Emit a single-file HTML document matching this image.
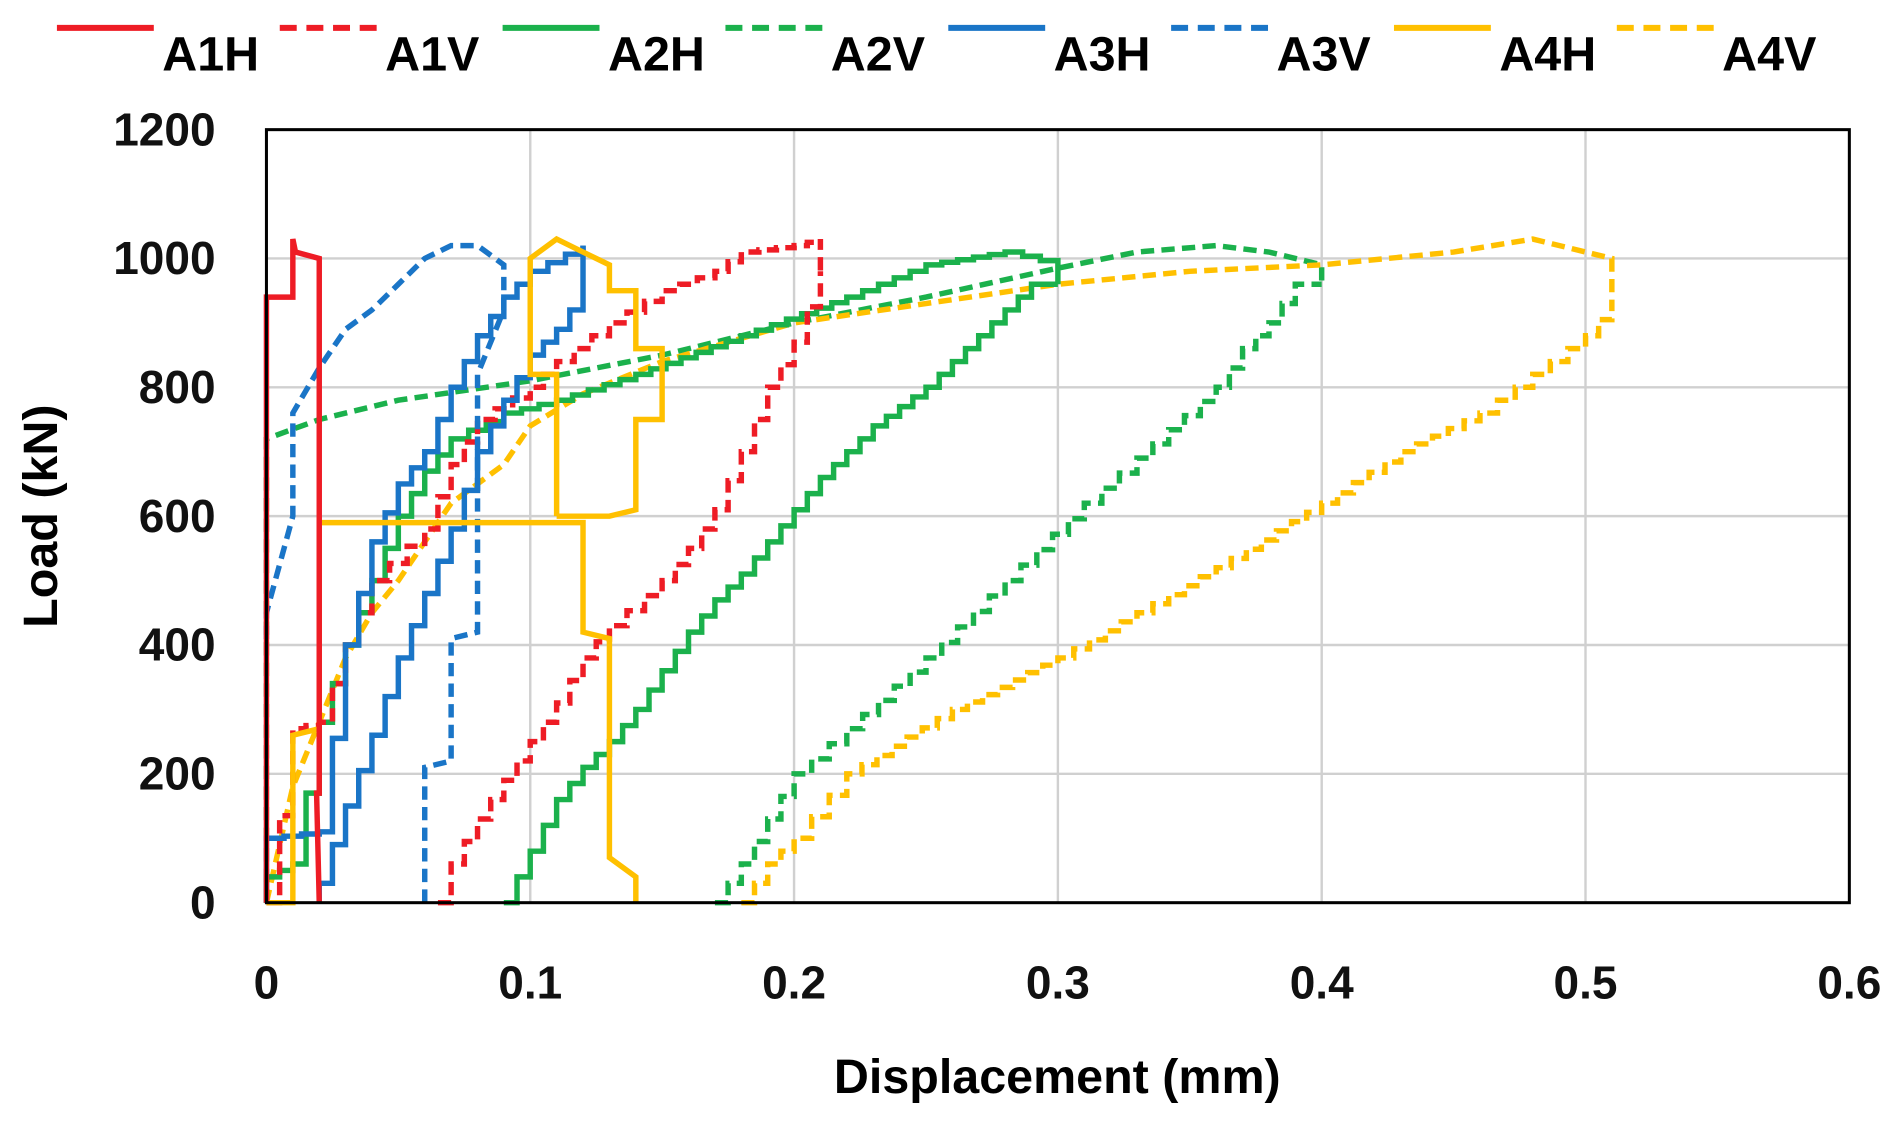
<!DOCTYPE html><html><head><style>body{margin:0;background:#fff}svg{display:block}</style></head><body>
<svg id="s" width="1899" height="1122" viewBox="0 0 1568 926" preserveAspectRatio="none" font-family="Liberation Sans, sans-serif" font-weight="bold">
<rect width="1568" height="926" fill="#fff"/>
<g id="grid" stroke="#d0d0d0" stroke-width="2"></g>
<g id="series" fill="none" stroke-width="4.5"></g>
<rect x="220" y="107" width="1307" height="638" fill="none" stroke="#000" stroke-width="2.5"/>
<g id="ticks" font-size="38" fill="#111"></g>
<text x="873" y="902" font-size="40" text-anchor="middle">Displacement (mm)</text>
<text transform="translate(47,426) rotate(-90)" font-size="40" text-anchor="middle">Load (kN)</text>
<g id="leg" font-size="40"></g>
</svg>
<script>
const X=v=>220+v*2178.3, Y=v=>745-v*0.5317;
const ns="http://www.w3.org/2000/svg";
function el(p,t,a,txt){const e=document.createElementNS(ns,t);for(const k in a)e.setAttribute(k,a[k]);if(txt!==undefined)e.textContent=txt;p.appendChild(e);return e;}
const g=document.getElementById('grid'),tk=document.getElementById('ticks');
for(let i=1;i<6;i++)el(g,'line',{x1:X(i/10),x2:X(i/10),y1:107,y2:745});
for(let i=1;i<6;i++)el(g,'line',{x1:220,x2:1527,y1:Y(i*200),y2:Y(i*200)});
for(let i=0;i<=6;i++)el(tk,'text',{x:X(i/10),y:824,'text-anchor':'middle'},i==0?'0':(i/10).toString());
for(let i=0;i<=6;i++)el(tk,'text',{x:178,y:Y(i*200)+13,'text-anchor':'end'},String(i*200));
function stairs(p){let o=[p[0]];for(let i=1;i<p.length;i++){const a=p[i-1],b=p[i];const n=Math.max(1,Math.round(Math.abs(b[0]-a[0])/0.006));
for(let k=1;k<=n;k++){const x=a[0]+(b[0]-a[0])*k/n,y=a[1]+(b[1]-a[1])*k/n;o.push([x,o[o.length-1][1]]);o.push([x,y]);}}return o;}
function path(p,c,d,st){if(st)p=stairs(p);const s=document.getElementById('series');el(s,'path',{d:'M'+p.map(q=>X(q[0]).toFixed(1)+','+Y(q[1]).toFixed(1)).join('L'),stroke:c,'stroke-dasharray':d?'11 6':'none','stroke-linejoin':'miter'});}
const R='#ee1c25',G='#1bb14c',B='#1a75c7',Yl='#ffc000';
path([[0.17,0],[0.18,60],[0.19,130],[0.2,200],[0.22,270],[0.25,380],[0.28,500],[0.31,620],[0.33,690],[0.36,800],[0.37,860],[0.38,900],[0.39,960],[0.4,960]],G,1,1);
path([[0,0],[0,720],[0.02,750],[0.05,780],[0.1,810],[0.15,850],[0.2,900],[0.25,940],[0.3,985],[0.33,1010],[0.36,1020],[0.38,1010],[0.4,990],[0.4,960]],G,1);
path([[0.18,0],[0.19,60],[0.2,100],[0.22,200],[0.26,300],[0.3,380],[0.33,450],[0.36,520],[0.4,620],[0.43,700],[0.46,760],[0.48,820],[0.5,880],[0.51,930]],Yl,1,1);
path([[0,0],[0.01,180],[0.02,280],[0.03,380],[0.04,450],[0.05,500],[0.06,560],[0.07,620],[0.09,680],[0.1,740],[0.12,790],[0.15,840],[0.2,900],[0.25,930],[0.3,960],[0.35,980],[0.4,990],[0.45,1010],[0.48,1030],[0.5,1010],[0.51,1000],[0.51,930]],Yl,1);
path([[0.09,0],[0.1,80],[0.11,160],[0.12,210],[0.13,250],[0.14,300],[0.15,360],[0.16,420],[0.17,470],[0.18,510],[0.19,560],[0.2,610],[0.21,660],[0.22,700],[0.23,740],[0.24,770],[0.25,800],[0.26,840],[0.27,880],[0.28,920],[0.29,960],[0.3,960]],G,0,1);
path([[0,0],[0,40],[0.01,60],[0.02,280],[0.03,400],[0.04,500],[0.05,600],[0.06,670],[0.07,720],[0.09,760],[0.11,780],[0.14,820],[0.18,880],[0.22,940],[0.25,990],[0.28,1010],[0.3,990],[0.3,960]],G,0,1);
path([[0.065,0],[0.07,60],[0.08,130],[0.09,190],[0.1,250],[0.11,310],[0.12,380],[0.13,430],[0.15,500],[0.16,550],[0.17,610],[0.18,700],[0.19,800],[0.2,870],[0.21,980]],R,1,1);
path([[0,0],[0.01,270],[0.02,280],[0.03,400],[0.04,500],[0.06,580],[0.07,680],[0.08,750],[0.1,800],[0.11,840],[0.13,900],[0.15,950],[0.17,980],[0.18,1010],[0.2,1020],[0.21,1030],[0.21,980]],R,1,1);
path([[0.06,0],[0.06,210],[0.07,220],[0.07,410],[0.08,420],[0.08,820],[0.09,920],[0.09,990],[0.08,1020],[0.07,1020],[0.06,1000],[0.05,960],[0.04,920],[0.03,890],[0.02,830],[0.01,760],[0.01,600],[0,450],[0,400]],B,1);
path([[0.02,0],[0.02,30],[0.03,150],[0.04,260],[0.05,380],[0.06,480],[0.07,580],[0.08,700],[0.09,780],[0.1,850],[0.11,890],[0.12,950],[0.12,1020]],B,0,1);
path([[0,0],[0,100],[0.02,110],[0.03,400],[0.04,560],[0.05,650],[0.06,700],[0.07,800],[0.08,880],[0.09,940],[0.1,980],[0.12,1020]],B,0,1);
path([[0,0],[0.01,0],[0.01,260],[0.02,270],[0.02,590],[0.12,590],[0.12,420],[0.13,410],[0.13,70],[0.14,40],[0.14,0]],Yl,0);
path([[0.11,600],[0.11,820],[0.1,820],[0.1,1000],[0.11,1030],[0.12,1010],[0.13,990],[0.13,950],[0.14,950],[0.14,860],[0.15,860],[0.15,750],[0.14,750],[0.14,610],[0.13,600],[0.11,600]],Yl,0);
path([[0,0],[0,940],[0.01,940],[0.01,1030],[0.011,1010],[0.02,1000],[0.02,170],[0.019,170],[0.02,0]],R,0);
const lg=document.getElementById('leg');
[['A1H',R,0],['A1V',R,1],['A2H',G,0],['A2V',G,1],['A3H',B,0],['A3V',B,1],['A4H',Yl,0],['A4V',Yl,1]].forEach((e,i)=>{const x0=47+i*184;
el(lg,'line',{x1:x0,x2:x0+80,y1:23,y2:23,stroke:e[1],'stroke-width':5,'stroke-dasharray':e[2]?'14 8':'none'});
el(lg,'text',{x:x0+87,y:58},e[0]);});
</script>
</body></html>
